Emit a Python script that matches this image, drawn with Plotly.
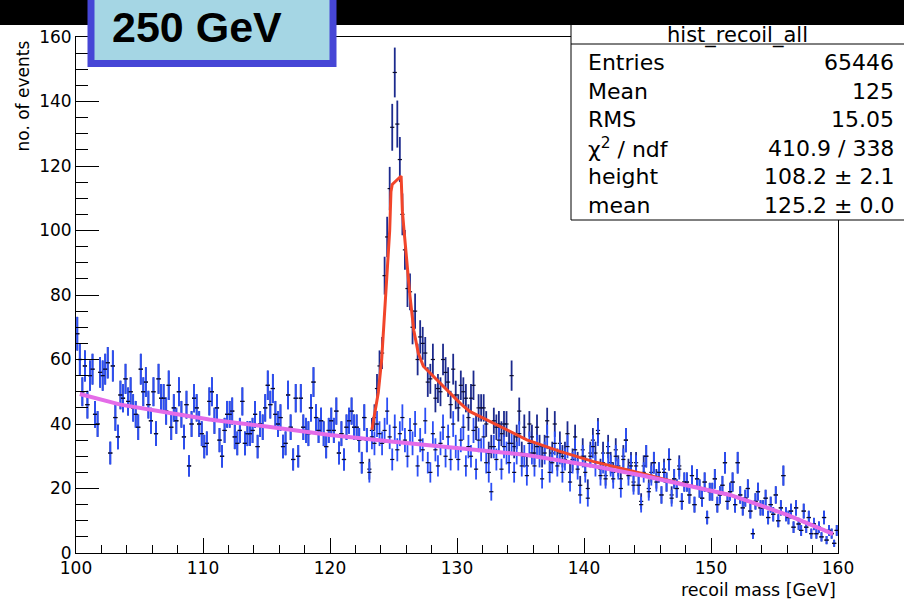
import numpy as np
import plotly.graph_objects as go

# ---------------- histogram data (0.2 GeV bins from 100 to 160 GeV) ----------------
BIN_LO, BIN_W, N_BINS = 100.0, 0.2, 300
EVENT_WEIGHT = 0.40          # per-event weight, sets the size of the error bars

# background-only histogram, bin contents
background_counts = [
    68, 60, 50, 58, 46, 55, 57, 43, 40, 56,
    55, 57, 59, 31, 58, 42, 36, 49, 48, 54,
    47, 50, 45, 43, 39, 57, 50, 53, 46, 41,
    50, 37, 54, 48, 48, 44, 52, 39, 45, 41,
    50, 43, 36, 46, 27, 40, 48, 45, 40, 37,
    33, 34, 47, 50, 41, 45, 35, 30, 38, 43,
    43, 44, 36, 34, 38, 47, 34, 37, 37, 38,
    43, 33, 40, 39, 45, 52, 46, 51, 43, 40,
    42, 33, 34, 49, 39, 29, 48, 30, 48, 39,
    38, 37, 45, 53, 42, 38, 41, 37, 33, 38,
    41, 38, 44, 31, 37, 29, 39, 41, 44, 39,
    39, 35, 28, 42, 35, 25, 36, 34, 40, 37,
    34, 38, 44, 36, 29, 39, 32, 37, 42, 35,
    30, 38, 34, 40, 27, 35, 32, 41, 28, 25,
    37, 32, 27, 34, 39, 30, 36, 29, 40, 33,
    29, 35, 39, 27, 33, 30, 38, 26, 35, 32,
    36, 28, 25, 19, 33, 29, 35, 26, 33, 31,
    28, 34, 25, 31, 37, 27, 30, 24, 34, 31,
    27, 33, 30, 23, 31, 36, 25, 28, 34, 27,
    31, 25, 29, 33, 22, 28, 32, 26, 18, 30,
    25, 17, 30, 33, 27, 37, 24, 28, 23, 31,
    27, 23, 30, 26, 20, 29, 35, 24, 27, 21,
    27, 21, 15, 25, 30, 19, 24, 28, 22, 25,
    18, 25, 22, 29, 17, 23, 20, 26, 16, 22,
    22, 18, 24, 15, 23, 20, 17, 22, 11, 19,
    19, 23, 15, 18, 21, 28, 16, 19, 22, 15,
    28, 18, 14, 17, 20, 13, 6, 16, 19, 14,
    14, 17, 11, 15, 12, 18, 10, 14, 24, 12,
    11, 13, 8, 14, 9, 7, 13, 8, 11, 6,
    9, 6, 8, 5, 11, 4, 7, 6, 3, 7,
]

# signal contribution (Higgs recoil), starting at the 123.1 GeV bin
SIGNAL_FIRST_BIN = 115
signal_counts = [
    1, 2, 8, 11, 21, 28, 48, 54, 77, 103,
    110, 101, 85, 63, 59, 52, 43, 36, 35, 33,
    32, 33, 21, 25, 29, 23, 16, 24, 16, 21,
    26, 17, 17, 17, 16, 16, 17, 11, 21, 9,
    18, 14, 13, 10, 13,
    9, 12, 6, 14, 8, 10, 5, 11, 7, 9,
    6, 21, 8, 5, 7, 4, 9, 3, 6, 5,
    4, 6, 3, 7, 2, 5, 4, 3, 6, 2,
    3, 5, 2, 4, 3, 1, 4, 2, 3, 2,
    2, 3, 1, 2, 4, 1, 2, 3, 1, 2,
    1, 2, 2, 1, 3, 1, 0, 2, 1, 1,
    1, 0, 1, 2, 0, 1, 1, 0, 1, 0,
    0, 1, 0, 0, 1, 0, 0, 1, 0, 0,
]

# fitted curves (signal+background, background only)
fit_mass = [123.3, 123.8, 124.07, 124.2, 124.33, 124.5, 124.7, 124.8, 124.9,
            125.6, 125.7, 125.83, 126.04, 126.3, 126.6, 126.95, 127.35, 127.87,
            128.66, 129.45, 130.24, 131.0, 132.8, 135.5, 138.1, 140.7, 144.4,
            147.6, 151.5, 156.0, 159.6]
fit_total = [38.2, 49.7, 60.0, 69.0, 76.5, 90.0, 100.0, 112.0, 114.3,
             116.9, 106.0, 100.0, 90.0, 79.6, 69.0, 62.0, 57.9, 55.8,
             52.7, 49.6, 46.5, 43.9, 40.4, 35.1, 31.5, 28.4, 24.8,
             21.6, 18.0, 11.8, 5.9]
bkg_mass = [100.3, 103.5, 107.4, 110.5, 115.0, 120.0, 125.0, 131.0, 135.5,
            140.7, 144.4, 147.6, 151.5, 153.3, 156.0, 159.6]
bkg_fit = [49.3, 46.0, 43.4, 41.4, 39.2, 36.6, 34.5, 32.3, 30.4,
           27.0, 24.2, 21.4, 18.0, 15.6, 11.8, 5.9]

# axis tick values
x_ticks = [100, 110, 120, 130, 140, 150, 160]
y_ticks = [0, 20, 40, 60, 80, 100, 120, 140, 160]

# statistics box
stats_title = "hist_recoil_all"
stats_labels = ["Entries", "Mean", "RMS", "χ<sup>2</sup> / ndf", "height", "mean"]
stats_values = ["65446", "125", "15.05", "410.9 / 338", "108.2 ± 2.1", "125.2 ± 0.0"]
energy_label = "250 GeV"

# ---------------- derived arrays ----------------
mass = BIN_LO + BIN_W * (np.arange(N_BINS) + 0.5)
bkg = np.array(background_counts, dtype=float)
sig = np.zeros(N_BINS)
sig[SIGNAL_FIRST_BIN:SIGNAL_FIRST_BIN + len(signal_counts)] = signal_counts
total = bkg + sig
bkg_err = np.sqrt(EVENT_WEIGHT * bkg)
total_err = np.sqrt(EVENT_WEIGHT * total)

# ---------------- geometry helpers (pixel -> paper) ----------------
W, H = 904, 600
L, R, T, B = 76, 838, 37, 553


def px(x):
    return (x - L) / (R - L)


def py(y):
    return (B - y) / (B - T)


FONT = "DejaVu Sans"
NAVY = "#1c2a8e"
BLUE = "#2c4ff6"
MARK = "#0b0b2a"

fig = go.Figure()

fig.add_trace(go.Scatter(
    x=mass, y=total, mode="markers",
    marker=dict(symbol="line-ew", size=3, line=dict(width=1.2, color=MARK)),
    error_y=dict(type="data", array=total_err, visible=True, color=NAVY,
                 thickness=1.8, width=0),
    hoverinfo="skip"))
fig.add_trace(go.Scatter(
    x=mass, y=bkg, mode="markers",
    marker=dict(symbol="line-ew", size=3, line=dict(width=1.2, color=MARK)),
    error_y=dict(type="data", array=bkg_err, visible=True, color=BLUE,
                 thickness=1.8, width=0),
    hoverinfo="skip"))
fig.add_trace(go.Scatter(
    x=fit_mass, y=fit_total, mode="lines",
    line=dict(color="#f2452a", width=3), hoverinfo="skip"))
fig.add_trace(go.Scatter(
    x=bkg_mass, y=bkg_fit, mode="lines",
    line=dict(color="#e46ce8", width=4), hoverinfo="skip"))

shapes = [
    # statistics box
    dict(type="rect", xref="paper", yref="paper", layer="above",
         x0=px(571), x1=px(912), y0=py(220), y1=py(10),
         fillcolor="white", line=dict(color="black", width=1)),
    dict(type="line", xref="paper", yref="paper", layer="above",
         x0=px(571), x1=px(912), y0=py(44), y1=py(44),
         line=dict(color="black", width=1)),
    dict(type="rect", xref="paper", yref="paper", layer="above",
         x0=px(571), x1=px(904), y0=py(45), y1=py(21),
         line=dict(width=0), fillcolor="rgba(0,0,0,0)",
         label=dict(text=stats_title, textposition="middle center",
                    font=dict(family=FONT, size=21, color="black"))),
    # dark band across the top
    dict(type="rect", xref="paper", yref="paper", layer="above",
         x0=px(-10), x1=px(914), y0=py(25), y1=py(-10),
         fillcolor="black", line=dict(width=0)),
    # energy label box
    dict(type="rect", xref="paper", yref="paper", layer="above",
         x0=px(91), x1=px(333), y0=py(63.5), y1=py(-12),
         fillcolor="#a5d6e4", line=dict(color="#4646d6", width=7)),
]

annotations = [
    dict(text="<b>" + energy_label + "</b>", xref="paper", yref="paper",
         x=px(110), y=py(27), xanchor="left", yanchor="middle", showarrow=False,
         font=dict(family="Liberation Sans", size=43, color="black")),
    dict(text="no. of events", xref="paper", yref="paper", x=px(22), y=py(39),
         xanchor="center", yanchor="top", textangle=-90, showarrow=False,
         font=dict(family=FONT, size=17, color="black")),
    dict(text="recoil mass [GeV]", xref="paper", yref="paper", x=px(838), y=py(590),
         xanchor="right", yanchor="middle", showarrow=False,
         font=dict(family=FONT, size=17.5, color="black")),
]
for i, (lab, val) in enumerate(zip(stats_labels, stats_values)):
    yc = 62.5 + 28.6 * i
    annotations.append(dict(text=lab, xref="paper", yref="paper", x=px(586), y=py(yc),
                            xanchor="left", yanchor="middle", showarrow=False,
                            font=dict(family=FONT, size=22, color="black")))
    annotations.append(dict(text=val, xref="paper", yref="paper", x=px(896), y=py(yc),
                            xanchor="right", yanchor="middle", showarrow=False,
                            font=dict(family=FONT, size=22, color="black")))

fig.update_layout(
    width=W, height=H,
    margin=dict(l=L, r=W - R, t=T, b=H - B, pad=0),
    paper_bgcolor="white", plot_bgcolor="white",
    showlegend=False,
    xaxis=dict(range=[100, 160], tickmode="array", tickvals=x_ticks,
               ticks="inside", ticklen=15, tickwidth=1, tickcolor="black",
               minor=dict(dtick=2, tick0=100, ticks="inside", ticklen=8,
                          tickwidth=1, tickcolor="black"),
               showline=True, linecolor="black", linewidth=1, mirror=True,
               showgrid=False, zeroline=False,
               tickfont=dict(family=FONT, size=17, color="black")),
    yaxis=dict(range=[0, 160], tickmode="array", tickvals=y_ticks,
               ticks="inside", ticklen=23, tickwidth=1, tickcolor="black",
               minor=dict(dtick=5, tick0=0, ticks="inside", ticklen=11.5,
                          tickwidth=1, tickcolor="black"),
               showline=True, linecolor="black", linewidth=1, mirror=True,
               showgrid=False, zeroline=False,
               tickfont=dict(family=FONT, size=17, color="black")),
    shapes=shapes,
    annotations=annotations,
)

fig.write_html("out.html")
